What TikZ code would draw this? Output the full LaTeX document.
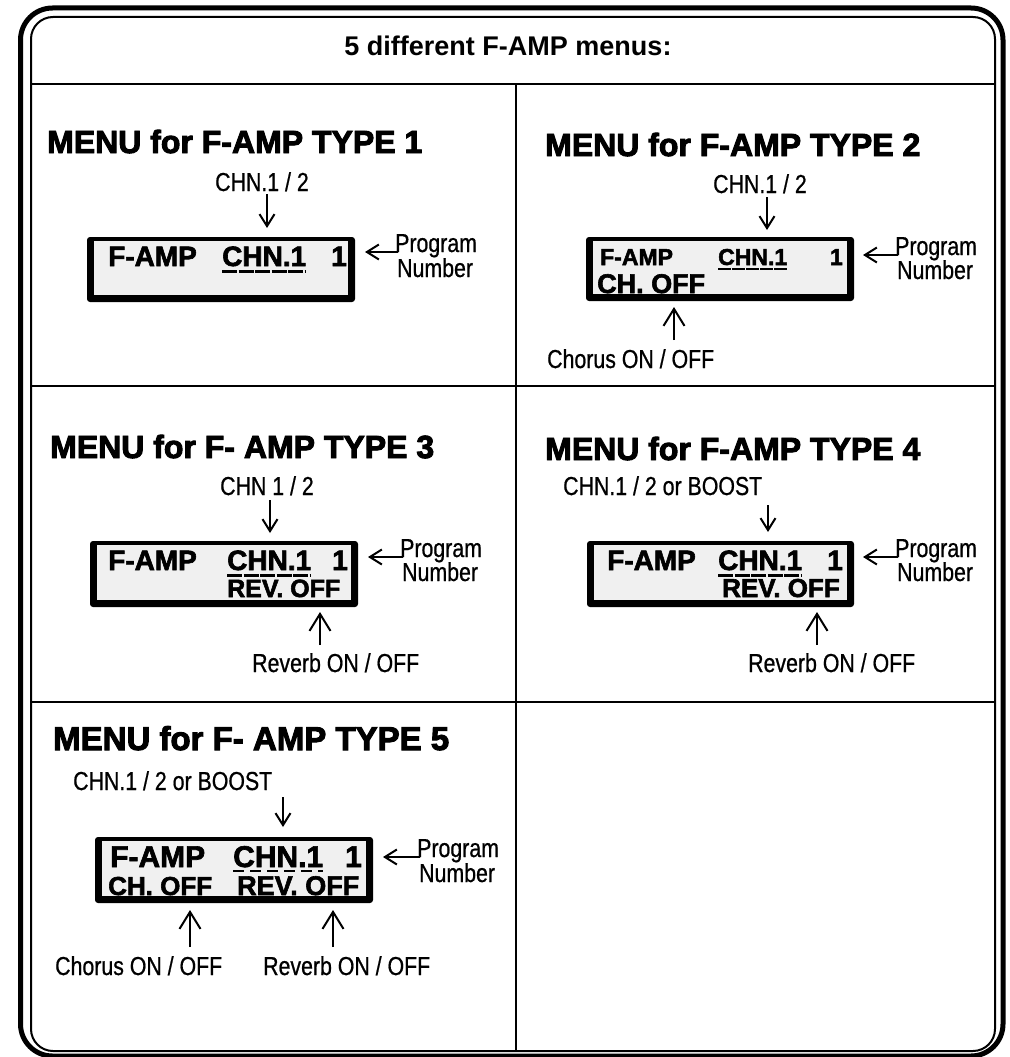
\documentclass[tikz,border=0pt]{standalone}
\usepackage{fontspec}
\setmainfont{Liberation Sans}
\newfontfamily\titlefont{Liberation Sans}[BoldFeatures={FakeBold=3}]
\newfontfamily\heavyfont{Liberation Sans}[BoldFeatures={FakeBold=2.2}]
\newfontfamily\labelfont{Liberation Sans}[FakeStretch=0.82,FakeBold=0.7]
\usetikzlibrary{arrows.meta}
\definecolor{lcdgray}{RGB}{240,240,240}
\tikzset{
  menutitle/.style={anchor=base west, inner sep=0pt, font=\titlefont\bfseries\fontsize{#1}{#1}\selectfont},
  menutitle/.default=32,
  lbl/.style={anchor=base west, inner sep=0pt, font=\labelfont\fontsize{26}{26}\selectfont},
  prog/.style={lbl, text depth=0pt},
  lcd/.style={anchor=base west, inner sep=0pt, font=\heavyfont\bfseries\fontsize{#1}{#1}\selectfont},
  lcd/.default=28,
  lcdbox/.style={anchor=north west, fill=black, inner sep=0pt, outer sep=0pt, rounded corners=3pt},
  gridline/.style={line width=2pt},
  arr/.style={line width=2pt, -{Straight Barb[length=12pt,width=15pt,line width=2pt]}},
  uparr/.style={line width=2pt, -{Straight Barb[length=17pt,width=21pt,line width=2pt]}},
  curs/.style={line width=3pt, dash pattern=on 15pt off 1.5pt},
  cursb/.style={line width=2.5pt, dash pattern=on 11pt off 6pt},
}
\newcommand{\lcdinner}[1]{\fill[lcdgray] ([xshift=7pt,yshift=-4pt]#1.north west) rectangle ([xshift=-7pt,yshift=7pt]#1.south east);}
\begin{document}
\begin{tikzpicture}[x=1pt,y=-1pt]
\useasboundingbox (0,0) rectangle (1009,1057);
% frame
\draw[line width=5pt, rounded corners=32pt] (20.5,8) rectangle (1003,1056);
\draw[line width=2pt, rounded corners=22pt] (31,17) rectangle (995,1051);
\draw[gridline] (31,84) -- (995,84);
\draw[gridline] (31,386) -- (995,386);
\draw[gridline] (31,702) -- (995,702);
\draw[gridline] (516,84) -- (516,1051);
\node[anchor=base, inner sep=0pt, font=\bfseries\fontsize{27}{27}\selectfont] (hdr) at (508,56) {5 different F-AMP menus:};

% ---------- panel 1
\node[menutitle] (t1) at (47,153) {MENU for F-AMP TYPE 1};
\node[lbl] (l1) at (215,191) {CHN.1 / 2};
\node[lcdbox, minimum width=268pt, minimum height=65pt] (b1) at (87,237) {};
\lcdinner{b1}
\node[lcd] (b1a) at (108,266) {F-AMP};
\node[lcd] (b1b) at (222,266) {CHN.1};
\node[lcd, anchor=base east] (b1c) at (347,266) {1};
\draw[curs] ([yshift=-5pt]b1b.base west) -- ([yshift=-5pt]b1b.base east);
\node[prog] (p1) at (395,252) {Program};
\node[lbl] (n1) at (397,277) {Number};
\coordinate (a1s) at (267,194); \coordinate (a1e) at (267,228);
\draw[arr] (a1s) -- (a1e);
\coordinate (q1) at (365,252);
\draw[arr] ([xshift=3pt]p1.base west) -- (q1);

% ---------- panel 2
\node[menutitle] (t2) at (545,156) {MENU for F-AMP TYPE 2};
\node[lbl] (l2) at (713,193) {CHN.1 / 2};
\node[lcdbox, minimum width=268pt, minimum height=64pt] (b2) at (586,237) {};
\lcdinner{b2}
\node[lcd=23] (b2a) at (600,265) {F-AMP};
\node[lcd=23] (b2b) at (718,265) {CHN.1};
\node[lcd=23, anchor=base east] (b2c) at (843,265) {1};
\draw[curs, line width=2.5pt, dash pattern=on 12.5pt off 1.5pt] ([yshift=-4pt]b2b.base west) -- ([yshift=-4pt]b2b.base east);
\node[lcd=27] (b2d) at (597,293) {CH. OFF};
\coordinate (a2s) at (767,197); \coordinate (a2e) at (767,230);
\draw[arr] (a2s) -- (a2e);
\coordinate (u2s) at (674,340); \coordinate (u2e) at (674,307);
\draw[uparr] (u2s) -- (u2e);
\node[lbl] (c2) at (547,368) {Chorus ON / OFF};
\node[prog] (p2) at (895,255) {Program};
\node[lbl] (n2) at (897,279) {Number};
\coordinate (q2) at (863,255);
\draw[arr] ([xshift=3pt]p2.base west) -- (q2);

% ---------- panel 3
\node[menutitle] (t3) at (50,458) {MENU for F- AMP TYPE 3};
\node[lbl] (l3) at (220,495) {CHN 1 / 2};
\node[lcdbox, minimum width=268pt, minimum height=66pt] (b3) at (90,541) {};
\lcdinner{b3}
\node[lcd] (b3a) at (108,570) {F-AMP};
\node[lcd] (b3b) at (227,570) {CHN.1};
\node[lcd, anchor=base east] (b3c) at (348,570) {1};
\draw[curs] ([yshift=-5pt]b3b.base west) -- ([yshift=-5pt]b3b.base east);
\node[lcd=25] (b3d) at (227,597) {REV. OFF};
\coordinate (a3s) at (270,500); \coordinate (a3e) at (270,533);
\draw[arr] (a3s) -- (a3e);
\coordinate (u3s) at (320,645); \coordinate (u3e) at (320,612);
\draw[uparr] (u3s) -- (u3e);
\node[lbl] (r3) at (252,672) {Reverb ON / OFF};
\node[prog] (p3) at (400,557) {Program};
\node[lbl] (n3) at (402,581) {Number};
\coordinate (q3) at (368,557);
\draw[arr] ([xshift=3pt]p3.base west) -- (q3);

% ---------- panel 4
\node[menutitle] (t4) at (545,460) {MENU for F-AMP TYPE 4};
\node[lbl] (l4) at (563,495) {CHN.1 / 2 or BOOST};
\node[lcdbox, minimum width=267pt, minimum height=66pt] (b4) at (587,541) {};
\lcdinner{b4}
\node[lcd] (b4a) at (607,570) {F-AMP};
\node[lcd] (b4b) at (718,570) {CHN.1};
\node[lcd, anchor=base east] (b4c) at (843,570) {1};
\draw[curs] ([yshift=-5pt]b4b.base west) -- ([yshift=-5pt]b4b.base east);
\node[lcd=26] (b4d) at (722,597) {REV. OFF};
\coordinate (a4s) at (768,505); \coordinate (a4e) at (768,532);
\draw[arr] (a4s) -- (a4e);
\coordinate (u4s) at (817,645); \coordinate (u4e) at (817,612);
\draw[uparr] (u4s) -- (u4e);
\node[lbl] (r4) at (748,672) {Reverb ON / OFF};
\node[prog] (p4) at (895,557) {Program};
\node[lbl] (n4) at (897,581) {Number};
\coordinate (q4) at (863,557);
\draw[arr] ([xshift=3pt]p4.base west) -- (q4);

% ---------- panel 5
\node[menutitle=33] (t5) at (53,750) {MENU for F- AMP TYPE 5};
\node[lbl] (l5) at (73,790) {CHN.1 / 2 or BOOST};
\node[lcdbox, minimum width=278pt, minimum height=66pt] (b5) at (95,837) {};
\lcdinner{b5}
\node[lcd=30] (b5a) at (110,867) {F-AMP};
\node[lcd=30] (b5b) at (233,867) {CHN.1};
\node[lcd=30, anchor=base east] (b5c) at (362,867) {1};
\draw[cursb] ([yshift=-4pt]b5b.base west) -- ([yshift=-4pt]b5b.base east);
\node[lcd=26] (b5d) at (108,895) {CH. OFF};
\node[lcd=27] (b5e) at (237,895) {REV. OFF};
\coordinate (a5s) at (283,797); \coordinate (a5e) at (283,827);
\draw[arr] (a5s) -- (a5e);
\coordinate (u5s) at (190,947); \coordinate (u5e) at (190,910);
\draw[uparr] (u5s) -- (u5e);
\coordinate (v5s) at (333,947); \coordinate (v5e) at (333,910);
\draw[uparr] (v5s) -- (v5e);
\node[lbl] (c5) at (55,975) {Chorus ON / OFF};
\node[lbl] (r5) at (263,975) {Reverb ON / OFF};
\node[prog] (p5) at (417,857) {Program};
\node[lbl] (n5) at (419,882) {Number};
\coordinate (q5) at (383,857);
\draw[arr] ([xshift=3pt]p5.base west) -- (q5);
\end{tikzpicture}
\end{document}
